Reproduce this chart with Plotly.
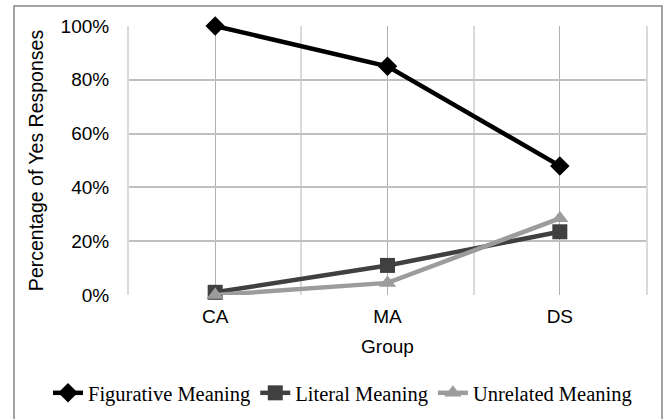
import plotly.graph_objects as go

groups = ["CA", "MA", "DS"]
figurative = [100, 85, 48]
literal = [1, 11, 23.5]
unrelated = [0, 4.5, 28.5]
y_ticks = [0, 20, 40, 60, 80, 100]
y_tick_labels = ["0%", "20%", "40%", "60%", "80%", "100%"]

xs = list(range(len(groups)))

fig = go.Figure()
fig.add_trace(go.Scatter(x=xs, y=figurative, name="Figurative Meaning", mode="lines+markers",
                         line=dict(color="#000000", width=4.5), cliponaxis=False,
                         marker=dict(symbol="diamond", size=15, color="#000000")))
fig.add_trace(go.Scatter(x=xs, y=literal, name="Literal Meaning", mode="lines+markers",
                         line=dict(color="#404040", width=4.5), cliponaxis=False,
                         marker=dict(symbol="square", size=15, color="#404040")))
fig.add_trace(go.Scatter(x=xs, y=unrelated, name="Unrelated Meaning", mode="lines+markers",
                         line=dict(color="#9c9c9c", width=4.5), cliponaxis=False,
                         marker=dict(symbol="triangle-up", size=15, color="#9c9c9c")))

fig.update_layout(
    width=667, height=419,
    margin=dict(l=129, r=21, t=26, b=124, autoexpand=False),
    paper_bgcolor="white", plot_bgcolor="white",
    font=dict(family="Liberation Sans, Arial", size=19, color="#000000"),
    showlegend=True,
    legend=dict(orientation="h", xref="paper", yref="paper",
                x=(48 - 129) / 517, xanchor="left", y=(295 - 393) / 269, yanchor="middle",
                font=dict(family="Liberation Serif, Times New Roman", size=20.5, color="#000000"),
                itemwidth=30, tracegroupgap=0, bgcolor="rgba(0,0,0,0)"),
    xaxis=dict(range=[-0.5, 2.5], tickvals=xs, ticktext=groups, showgrid=True,
               gridcolor="#b0b0b0", gridwidth=1, zeroline=False, showline=False,
               ticks="", ticklen=0, ticklabelstandoff=8,
               minor=dict(tickvals=[-0.5, 0.5, 1.5, 2.5], showgrid=True, gridcolor="#dadada", gridwidth=2, ticks=""),
               title=dict(text="Group", font=dict(size=19), standoff=13),
               tickfont=dict(size=19)),
    yaxis=dict(range=[0, 100], tickvals=y_ticks, ticktext=y_tick_labels, showgrid=True,
               gridcolor="#c0c0c0", gridwidth=2, zeroline=False, showline=True, mirror=True,
               linecolor="#dadada", linewidth=2,
               ticks="", ticklabelstandoff=14,
               title=dict(text="Percentage of Yes Responses", font=dict(size=19.5), standoff=12),
               tickfont=dict(size=19)),
    shapes=[dict(type="rect", xref="paper", yref="paper",
                 x0=(14 - 129) / 517, x1=(662 - 129) / 517,
                 y0=(295 - 430) / 269, y1=(295 - 6) / 269,
                 line=dict(color="#858585", width=1.5), fillcolor="rgba(0,0,0,0)", layer="below")],
)

fig.write_html("out.html", config={"displayModeBar": False},
               post_script="document.body.style.margin='0';")
